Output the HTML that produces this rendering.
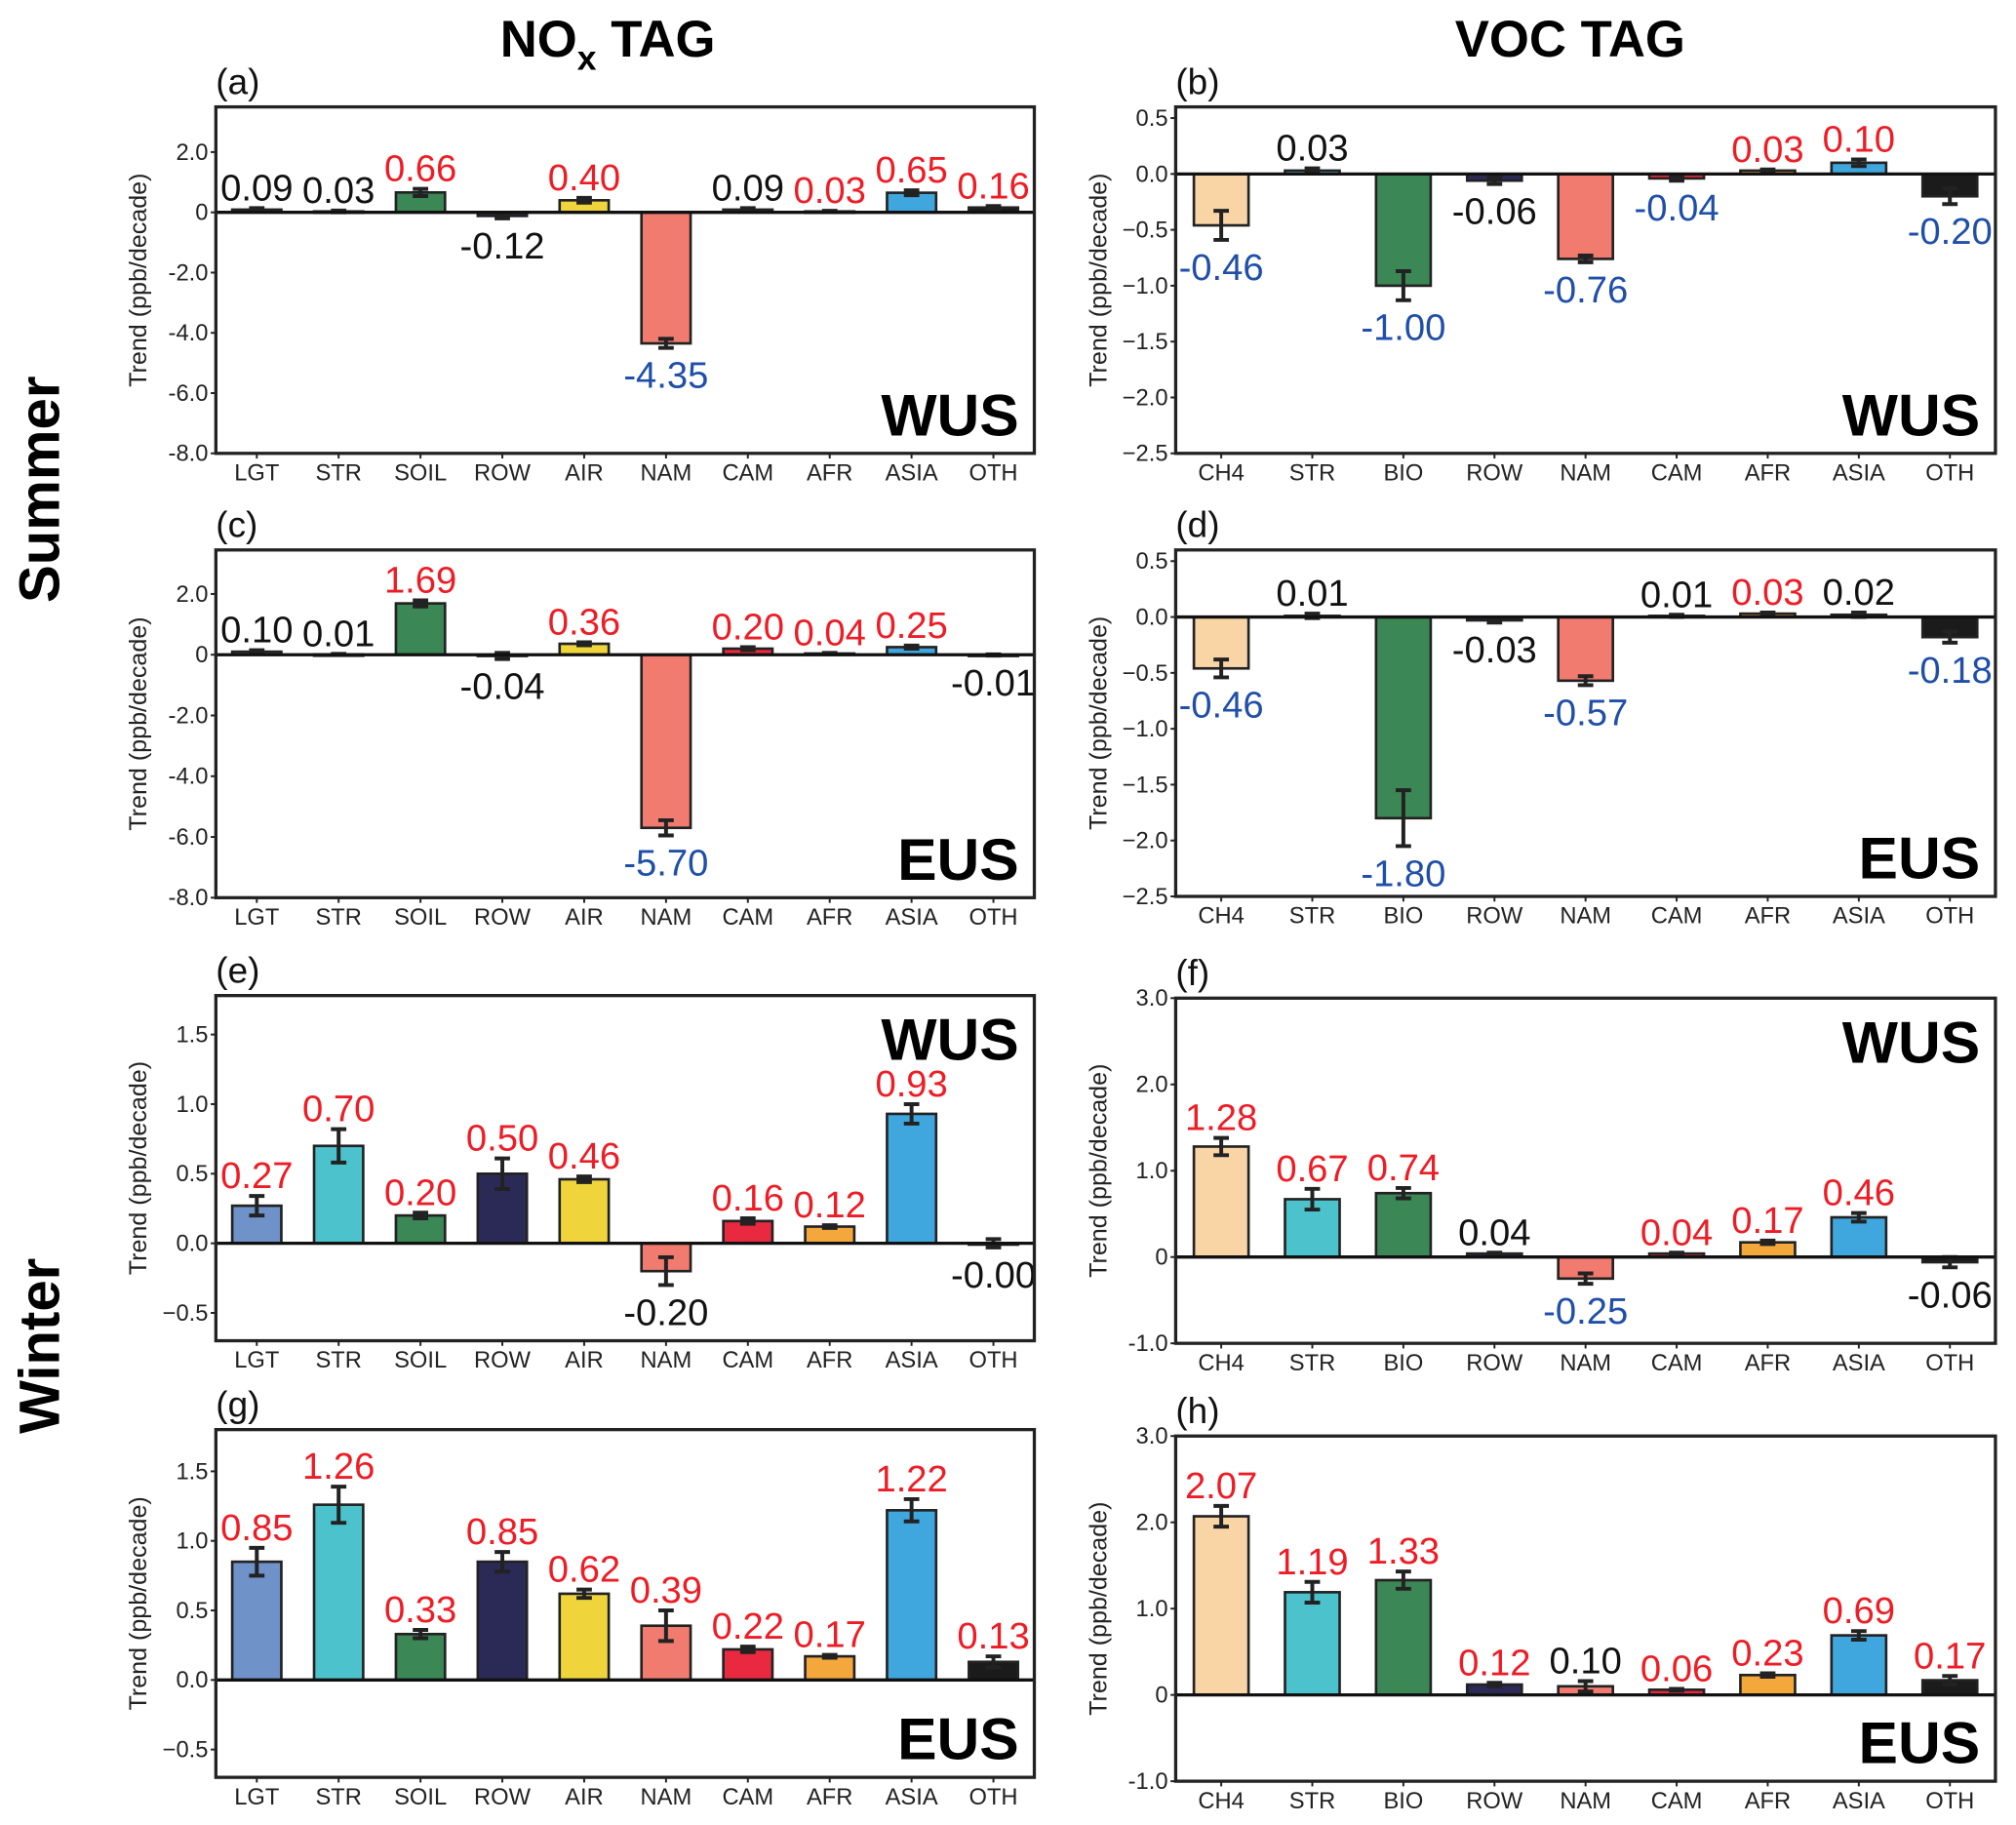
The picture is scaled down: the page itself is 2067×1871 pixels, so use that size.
<!DOCTYPE html>
<html><head><meta charset="utf-8">
<style>
html,body{margin:0;padding:0;background:#fff;}
svg{display:block;font-family:"Liberation Sans",Arial,sans-serif;}
</style></head>
<body>
<svg id="fig" width="2067" height="1871" viewBox="0 0 1569 1417" preserveAspectRatio="none" xmlns="http://www.w3.org/2000/svg">
<text x="473" y="44" font-size="40" font-weight="bold" text-anchor="middle">NO<tspan font-size="27" dy="10">x</tspan><tspan dy="-10"> TAG</tspan></text>
<text x="1222" y="44" font-size="40" font-weight="bold" text-anchor="middle">VOC TAG</text>
<text transform="translate(46,380) rotate(-90)" font-size="44" font-weight="bold" text-anchor="middle">Summer</text>
<text transform="translate(46,1045) rotate(-90)" font-size="44" font-weight="bold" text-anchor="middle">Winter</text>
</svg>
<script>
const noxCats = ["LGT","STR","SOIL","ROW","AIR","NAM","CAM","AFR","ASIA","OTH"];
const vocCats = ["CH4","STR","BIO","ROW","NAM","CAM","AFR","ASIA","OTH"];
const noxColors = ["#6f92c9","#4cc3cc","#3b8756","#2b2a56","#f0d43b","#f27b70","#e9293f","#f4a83c","#3fa7de","#1b1b1b"];
const vocColors = ["#f9d5a6","#4cc3cc","#3b8756","#2b2a56","#f27b70","#e9293f","#f4a83c","#3fa7de","#1b1b1b"];

const valsA = [0.09,0.03,0.66,-0.12,0.40,-4.35,0.09,0.03,0.65,0.16];
const errA  = [0.05,0.03,0.12,0.08,0.08,0.15,0.05,0.02,0.08,0.05];
const colA  = ["k","k","r","k","r","b","k","r","r","r"];
const valsB = [-0.46,0.03,-1.00,-0.06,-0.76,-0.04,0.03,0.10,-0.20];
const errB  = [0.13,0.02,0.13,0.03,0.03,0.02,0.01,0.03,0.07];
const colB  = ["b","k","b","k","b","b","r","r","b"];
const valsC = [0.10,0.01,1.69,-0.04,0.36,-5.70,0.20,0.04,0.25,-0.01];
const errC  = [0.05,0.02,0.10,0.10,0.05,0.25,0.05,0.02,0.05,0.02];
const colC  = ["k","k","r","k","r","b","r","r","r","k"];
const valsD = [-0.46,0.01,-1.80,-0.03,-0.57,0.01,0.03,0.02,-0.18];
const errD  = [0.08,0.02,0.25,0.02,0.04,0.01,0.01,0.02,0.05];
const colD  = ["b","k","b","k","b","k","r","k","b"];
const valsE = [0.27,0.70,0.20,0.50,0.46,-0.20,0.16,0.12,0.93,-0.00];
const errE  = [0.07,0.12,0.02,0.11,0.02,0.10,0.02,0.01,0.07,0.03];
const colE  = ["r","r","r","r","r","k","r","r","r","k"];
const valsF = [1.28,0.67,0.74,0.04,-0.25,0.04,0.17,0.46,-0.06];
const errF  = [0.10,0.12,0.06,0.01,0.06,0.01,0.02,0.05,0.06];
const colF  = ["r","r","r","k","b","r","r","r","k"];
const valsG = [0.85,1.26,0.33,0.85,0.62,0.39,0.22,0.17,1.22,0.13];
const errG  = [0.10,0.13,0.03,0.07,0.03,0.11,0.02,0.01,0.08,0.04];
const colG  = ["r","r","r","r","r","r","r","r","r","r"];
const valsH = [2.07,1.19,1.33,0.12,0.10,0.06,0.23,0.69,0.17];
const errH  = [0.12,0.12,0.10,0.02,0.06,0.01,0.02,0.05,0.05];
const colH  = ["r","r","r","r","k","r","r","r","r"];

const ticksNoxSummer = [2,0,-2,-4,-6,-8];
const tickLabNoxSummer = ["2.0","0","-2.0","-4.0","-6.0","-8.0"];
const ticksVocSummer = [0.5,0,-0.5,-1,-1.5,-2,-2.5];
const tickLabVocSummer = ["0.5","0.0","\u22120.5","\u22121.0","\u22121.5","\u22122.0","\u22122.5"];
const ticksNoxWinter = [1.5,1,0.5,0,-0.5];
const tickLabNoxWinter = ["1.5","1.0","0.5","0.0","\u22120.5"];
const ticksVocWinter = [3,2,1,0,-1];
const tickLabVocWinter = ["3.0","2.0","1.0","0","-1.0"];

const NS="http://www.w3.org/2000/svg";
const svg=document.getElementById('fig');
const CMAP={r:"#ee1c25",k:"#111",b:"#1f4fa8"};
function mk(tag,attrs,parent){const e=document.createElementNS(NS,tag);for(const k in attrs)e.setAttribute(k,attrs[k]);(parent||svg).appendChild(e);return e;}

function panel(p){
  const g=mk('g',{});
  
  
  const y=v=>p.y0+(p.ymax-v)/(p.ymax-p.ymin)*(p.y1-p.y0);
  const n=p.cats.length, slot=(p.x1-p.x0)/n;
  const xc=i=>p.x0+slot*(i+0.5);
  p.vals.forEach((v,i)=>{
    const bw=slot*0.6;
    const r=mk('rect',{x:xc(i)-bw/2,y:Math.min(y(v),y(0)),width:bw,height:Math.max(Math.abs(y(v)-y(0)),1),fill:p.colors[i],stroke:"#222","stroke-width":2},g);
    
    
    const e=p.err[i];
    const el=mk('path',{d:`M${xc(i)},${y(v+e)}V${y(v-e)}M${xc(i)-6},${y(v+e)}h12M${xc(i)-6},${y(v-e)}h12`,stroke:"#222","stroke-width":3,fill:"none"},g);
    
    
    const neg=v<0||(v===0&&p.negZero);
    const lab=neg?"-"+Math.abs(v).toFixed(2):v.toFixed(2);
    const ty=neg?y(v-e)+31:y(Math.max(v,0)+e)-6;
    const t=mk('text',{x:xc(i),y:ty,"font-size":29,"text-anchor":"middle",fill:CMAP[p.lc[i]]},g);
    t.textContent=lab;
    
    
    const tl=mk('text',{x:xc(i),y:p.y1+21,"font-size":18,"text-anchor":"middle",fill:"#222"},g);
    tl.textContent=p.cats[i];
    
    
    mk('line',{x1:xc(i),x2:xc(i),y1:p.y1,y2:p.y1+4,stroke:"#222","stroke-width":1.5},g);
  });
  const zl=mk('line',{x1:p.x0,x2:p.x1,y1:y(0),y2:y(0),stroke:"#111","stroke-width":2.5},g);
  
  
  const fr=mk('rect',{x:p.x0,y:p.y0,width:p.x1-p.x0,height:p.y1-p.y0,fill:"none",stroke:"#222","stroke-width":2.5},g);
  
  
  p.ticks.forEach((tv,i)=>{
    mk('line',{x1:p.x0-4,x2:p.x0,y1:y(tv),y2:y(tv),stroke:"#222","stroke-width":1.5},g);
    const t=mk('text',{x:p.x0-6,y:y(tv)+6,"font-size":18,"text-anchor":"end",fill:"#222"},g);
    t.textContent=p.tickLab[i];
    
    
  });
  const at=mk('text',{transform:`translate(${p.x0-54},${(p.y0+p.y1)/2}) rotate(-90)`,"font-size":19,"text-anchor":"middle",fill:"#222"},g);
  at.textContent="Trend (ppb/decade)";
  
  
  const pl=mk('text',{x:p.x0,y:p.y0-10,"font-size":28,fill:"#111"},g);
  pl.textContent="("+p.id+")";
  
  
  const rl=mk('text',{x:p.x1-12,y:p.regTop?p.y0+50:p.y1-14,"font-size":46,"font-weight":"bold","text-anchor":"end",fill:"#000"},g);
  rl.textContent=p.region;
  
  
}

panel({id:"a",cats:noxCats,colors:noxColors,vals:valsA,err:errA,lc:colA,x0:168,x1:805,y0:83,y1:352,ymin:-8,ymax:3.5,ticks:ticksNoxSummer,tickLab:tickLabNoxSummer,region:"WUS"});
panel({id:"b",cats:vocCats,colors:vocColors,vals:valsB,err:errB,lc:colB,x0:915,x1:1553,y0:83,y1:352,ymin:-2.5,ymax:0.6,ticks:ticksVocSummer,tickLab:tickLabVocSummer,region:"WUS"});
panel({id:"c",cats:noxCats,colors:noxColors,vals:valsC,err:errC,lc:colC,x0:168,x1:805,y0:427,y1:697,ymin:-8,ymax:3.45,ticks:ticksNoxSummer,tickLab:tickLabNoxSummer,region:"EUS"});
panel({id:"d",cats:vocCats,colors:vocColors,vals:valsD,err:errD,lc:colD,x0:915,x1:1553,y0:427,y1:696,ymin:-2.5,ymax:0.6,ticks:ticksVocSummer,tickLab:tickLabVocSummer,region:"EUS"});
panel({id:"e",cats:noxCats,colors:noxColors,vals:valsE,err:errE,lc:colE,x0:168,x1:805,y0:773,y1:1041,ymin:-0.7,ymax:1.78,ticks:ticksNoxWinter,tickLab:tickLabNoxWinter,region:"WUS",regTop:true,negZero:true});
panel({id:"f",cats:vocCats,colors:vocColors,vals:valsF,err:errF,lc:colF,x0:915,x1:1553,y0:775,y1:1043,ymin:-1,ymax:3,ticks:ticksVocWinter,tickLab:tickLabVocWinter,region:"WUS",regTop:true});
panel({id:"g",cats:noxCats,colors:noxColors,vals:valsG,err:errG,lc:colG,x0:168,x1:805,y0:1110,y1:1380,ymin:-0.7,ymax:1.8,ticks:ticksNoxWinter,tickLab:tickLabNoxWinter,region:"EUS"});
panel({id:"h",cats:vocCats,colors:vocColors,vals:valsH,err:errH,lc:colH,x0:915,x1:1553,y0:1115,y1:1383,ymin:-1,ymax:3,ticks:ticksVocWinter,tickLab:tickLabVocWinter,region:"EUS"});
</script>
</body></html>
